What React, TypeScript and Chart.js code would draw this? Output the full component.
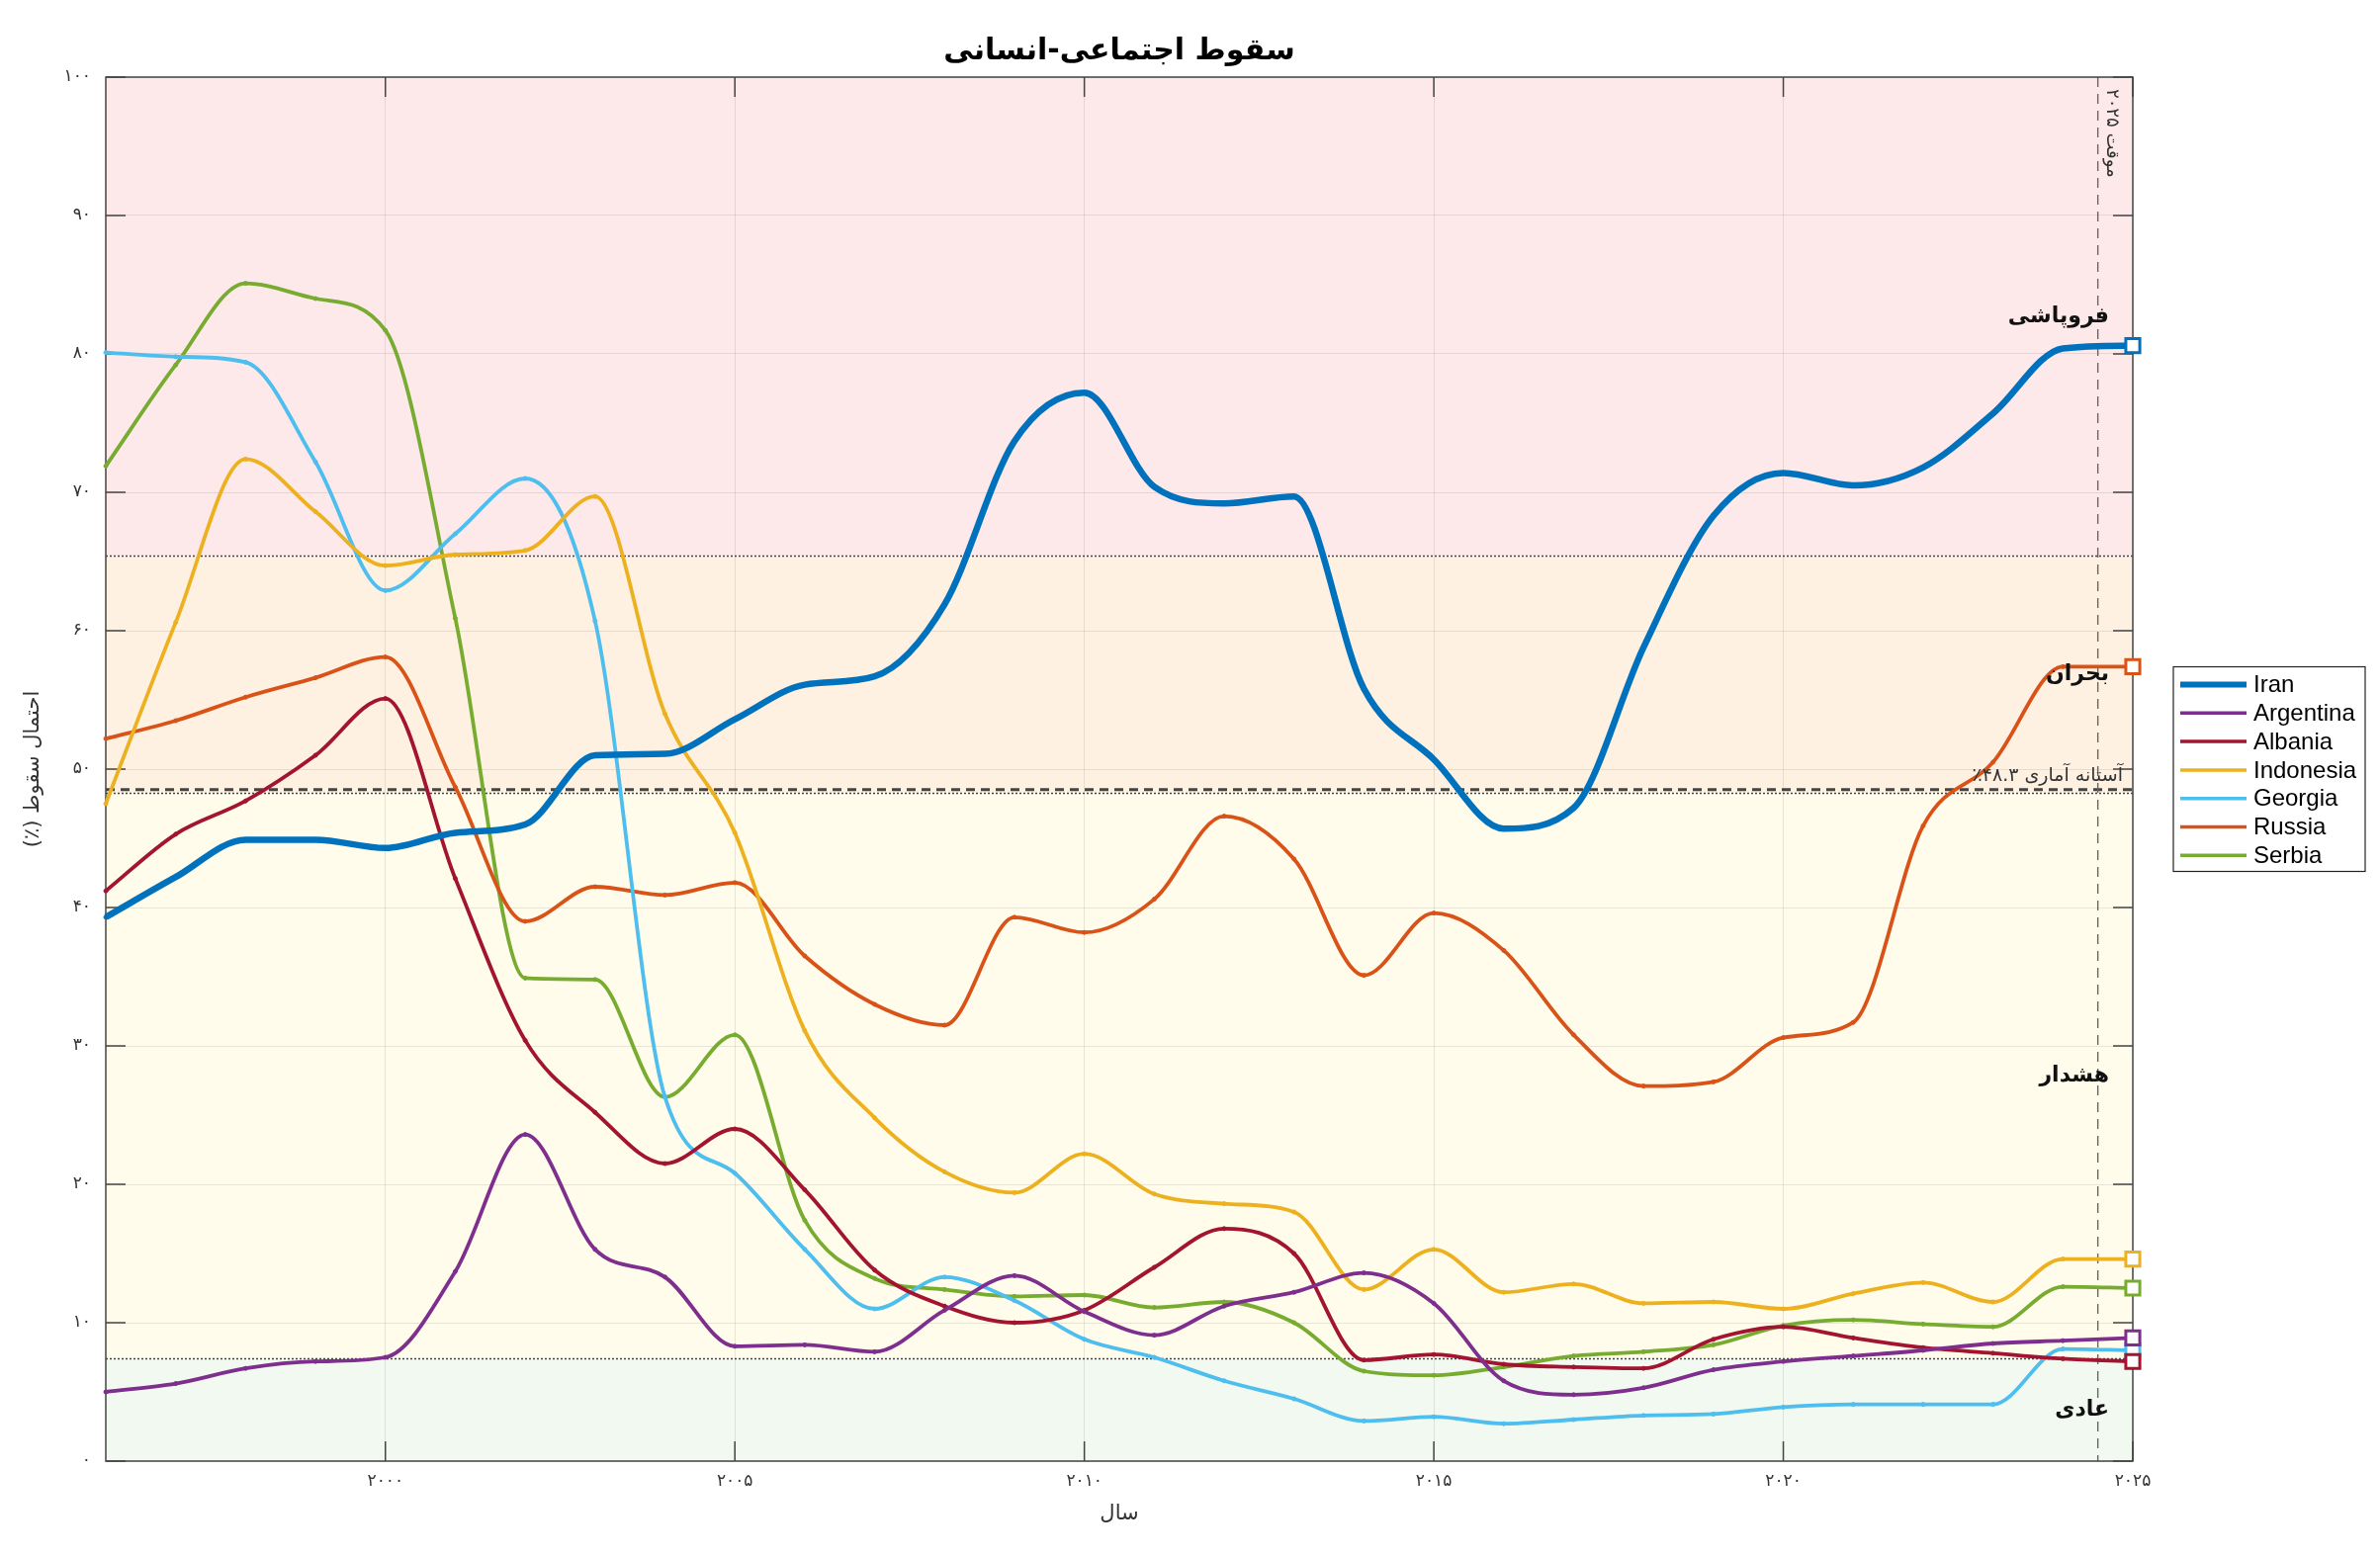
import React, { useEffect, useRef } from 'react';
import { Chart, registerables } from 'chart.js';

Chart.register(...registerables);

// yearly values (percent probability of collapse)
const years = [
  1996, 1997, 1998, 1999, 2000, 2001, 2002, 2003, 2004, 2005, 2006, 2007, 2008, 2009, 2010,
  2011, 2012, 2013, 2014, 2015, 2016, 2017, 2018, 2019, 2020, 2021, 2022, 2023, 2024, 2025,
];
const iran = [
  39.3, 42.2, 44.9, 44.9, 44.3, 45.4, 46.0, 51.0, 51.1, 53.6, 56.1, 56.7, 61.9, 73.7, 77.2,
  70.4, 69.2, 69.7, 55.8, 50.7, 45.7, 47.2, 58.8, 68.3, 71.4, 70.5, 71.8, 75.7, 80.4, 80.6,
];
const argentina = [
  5.0, 5.6, 6.7, 7.2, 7.5, 13.7, 23.6, 15.3, 13.3, 8.3, 8.4, 7.9, 10.9, 13.4, 10.8,
  9.1, 11.2, 12.2, 13.6, 11.4, 5.8, 4.8, 5.3, 6.6, 7.2, 7.6, 8.0, 8.5, 8.7, 8.9,
];
const albania = [
  41.2, 45.3, 47.7, 51.0, 55.1, 42.1, 30.4, 25.2, 21.5, 24.0, 19.6, 13.8, 11.2, 10.0, 10.9,
  14.0, 16.8, 15.0, 7.3, 7.7, 7.0, 6.8, 6.7, 8.8, 9.7, 8.9, 8.2, 7.8, 7.4, 7.2,
];
const indonesia = [
  47.5, 60.6, 72.4, 68.6, 64.7, 65.5, 65.8, 69.7, 54.0, 45.4, 31.1, 24.8, 20.9, 19.4, 22.2,
  19.3, 18.6, 18.0, 12.4, 15.3, 12.2, 12.8, 11.4, 11.5, 11.0, 12.1, 12.9, 11.5, 14.6, 14.6,
];
const georgia = [
  80.1, 79.8, 79.4, 72.2, 62.9, 67.0, 71.0, 60.7, 26.3, 20.8, 15.3, 11.0, 13.3, 11.6, 8.8,
  7.5, 5.8, 4.5, 2.9, 3.2, 2.7, 3.0, 3.3, 3.4, 3.9, 4.1, 4.1, 4.1, 8.1, 8.0,
];
const russia = [
  52.2, 53.5, 55.2, 56.6, 58.1, 48.7, 39.0, 41.5, 40.9, 41.8, 36.5, 33.0, 31.5, 39.3, 38.2,
  40.6, 46.6, 43.5, 35.1, 39.6, 36.9, 30.8, 27.1, 27.4, 30.6, 31.7, 45.9, 50.5, 57.4, 57.4,
];
const serbia = [
  71.9, 79.2, 85.1, 84.0, 81.7, 60.9, 34.9, 34.8, 26.3, 30.8, 17.4, 13.2, 12.4, 11.9, 12.0,
  11.1, 11.5, 10.0, 6.5, 6.2, 6.8, 7.6, 7.9, 8.4, 9.8, 10.2, 9.9, 9.7, 12.6, 12.5,
];

const seriesNames = ['Iran', 'Argentina', 'Albania', 'Indonesia', 'Georgia', 'Russia', 'Serbia'];
const seriesValues = [iran, argentina, albania, indonesia, georgia, russia, serbia];
const seriesColors = ['#0072BD', '#7E2F8E', '#A2142F', '#EDB120', '#4DBEEE', '#D95319', '#77AC30'];

const xTickValues = [2000, 2005, 2010, 2015, 2020, 2025];
const xTickLabels = ['۲۰۰۰', '۲۰۰۵', '۲۰۱۰', '۲۰۱۵', '۲۰۲۰', '۲۰۲۵'];
const yTickValues = [0, 10, 20, 30, 40, 50, 60, 70, 80, 90, 100];
const yTickLabels = ['۰', '۱۰', '۲۰', '۳۰', '۴۰', '۵۰', '۶۰', '۷۰', '۸۰', '۹۰', '۱۰۰'];

// risk bands, bottom to top
const bandEdges = [0, 7.4, 48.3, 65.4, 100];
const bandNames = ['عادی', 'هشدار', 'بحران', 'فروپاشی'];
const bandColors = ['#F2F9F0', '#FFFCEC', '#FEF1E1', '#FDE9EA'];
const statThreshold = 48.3;
const provisionalYear = 2024.5;

const titleText = 'سقوط اجتماعی-انسانی';
const xTitleText = 'سال';
const yTitleText = 'احتمال سقوط (٪)';
const thresholdText = 'آستانه آماری ۴۸.۳٪';
const provisionalText = 'موقت ۲۰۲۵';

const FA = '"DejaVu Sans", sans-serif';
const AXIS = '#444';

const overlay = {
  id: 'overlay',
  beforeDraw(chart: any) {
    const { ctx, chartArea: a, scales } = chart;
    const y = scales.y;
    ctx.save();
    for (let i = 0; i < bandColors.length; i++) {
      const top = y.getPixelForValue(bandEdges[i + 1]);
      const bot = y.getPixelForValue(bandEdges[i]);
      ctx.fillStyle = bandColors[i];
      ctx.fillRect(a.left, top, a.right - a.left, bot - top);
    }
    ctx.restore();
  },
  beforeDatasetsDraw(chart: any) {
    const { ctx, chartArea: a, scales } = chart;
    const x = scales.x;
    const y = scales.y;
    ctx.save();

    // band edges (dotted)
    ctx.strokeStyle = AXIS;
    ctx.lineWidth = 1.5;
    ctx.setLineDash([2, 2]);
    [bandEdges[1], bandEdges[2], bandEdges[3]].forEach((v) => {
      const py = Math.round(y.getPixelForValue(v)) + 0.5;
      ctx.beginPath();
      ctx.moveTo(a.left, py);
      ctx.lineTo(a.right, py);
      ctx.stroke();
    });

    // statistical threshold (thick dashes)
    const ty = y.getPixelForValue(statThreshold) - 3;
    ctx.lineWidth = 3;
    ctx.setLineDash([9, 6]);
    ctx.beginPath();
    ctx.moveTo(a.left, ty);
    ctx.lineTo(a.right, ty);
    ctx.stroke();

    // provisional year marker
    const px = x.getPixelForValue(provisionalYear);
    ctx.strokeStyle = '#666';
    ctx.lineWidth = 1.4;
    ctx.setLineDash([10, 7]);
    ctx.beginPath();
    ctx.moveTo(px, a.top);
    ctx.lineTo(px, a.bottom);
    ctx.stroke();

    // box and inner ticks
    ctx.setLineDash([]);
    ctx.strokeStyle = AXIS;
    ctx.lineWidth = 1.5;
    ctx.strokeRect(a.left, a.top, a.right - a.left, a.bottom - a.top);
    const tl = 20;
    ctx.beginPath();
    yTickValues.forEach((v) => {
      const py = y.getPixelForValue(v);
      ctx.moveTo(a.left, py);
      ctx.lineTo(a.left + tl, py);
      ctx.moveTo(a.right, py);
      ctx.lineTo(a.right - tl, py);
    });
    xTickValues.forEach((v) => {
      const xp = x.getPixelForValue(v);
      ctx.moveTo(xp, a.bottom);
      ctx.lineTo(xp, a.bottom - tl);
      ctx.moveTo(xp, a.top);
      ctx.lineTo(xp, a.top + tl);
    });
    ctx.stroke();
    ctx.restore();
  },
  afterDatasetsDraw(chart: any) {
    const { ctx, chartArea: a, scales } = chart;
    const x = scales.x;
    const y = scales.y;
    ctx.save();
    ctx.direction = 'rtl';

    // band names
    ctx.fillStyle = '#111';
    ctx.font = `bold 22px ${FA}`;
    ctx.textAlign = 'right';
    ctx.textBaseline = 'middle';
    bandNames.forEach((name, i) => {
      const mid = (bandEdges[i] + bandEdges[i + 1]) / 2;
      ctx.fillText(name, a.right - 24, y.getPixelForValue(mid));
    });

    // threshold label
    ctx.font = `19px ${FA}`;
    ctx.fillStyle = '#333';
    ctx.textBaseline = 'alphabetic';
    ctx.fillText(thresholdText, a.right - 10, y.getPixelForValue(statThreshold) - 12);

    // provisional label, rotated to read downwards
    ctx.save();
    ctx.translate(x.getPixelForValue(provisionalYear) + 14, a.top + 12);
    ctx.rotate(Math.PI / 2);
    ctx.font = `18px ${FA}`;
    ctx.fillStyle = '#333';
    ctx.textAlign = 'left';
    ctx.textBaseline = 'middle';
    ctx.fillText(provisionalText, 0, 0);
    ctx.restore();

    // title and axis titles
    ctx.textAlign = 'center';
    ctx.textBaseline = 'middle';
    ctx.fillStyle = '#000';
    ctx.font = `bold 30px ${FA}`;
    ctx.fillText(titleText, (a.left + a.right) / 2, 52);
    ctx.fillStyle = '#333';
    ctx.font = `21px ${FA}`;
    ctx.fillText(xTitleText, (a.left + a.right) / 2, a.bottom + 54);
    ctx.save();
    ctx.translate(34, (a.top + a.bottom) / 2);
    ctx.rotate(-Math.PI / 2);
    ctx.fillText(yTitleText, 0, 0);
    ctx.restore();

    // legend
    ctx.direction = 'ltr';
    const lw = 194;
    const lh = 207;
    const lx = a.right + 41;
    const ly = (a.top + a.bottom) / 2 - lh / 2;
    ctx.fillStyle = '#fff';
    ctx.fillRect(lx, ly, lw, lh);
    ctx.strokeStyle = '#222';
    ctx.lineWidth = 1.2;
    ctx.strokeRect(lx, ly, lw, lh);
    ctx.font = '24px "Liberation Sans", Arial, sans-serif';
    ctx.textAlign = 'left';
    seriesNames.forEach((name, i) => {
      const iy = ly + 18 + i * 28.8;
      ctx.strokeStyle = seriesColors[i];
      ctx.lineWidth = i === 0 ? 6 : 3.5;
      ctx.beginPath();
      ctx.moveTo(lx + 7, iy);
      ctx.lineTo(lx + 74, iy);
      ctx.stroke();
      ctx.fillStyle = '#000';
      ctx.fillText(name, lx + 81, iy + 1);
    });
    ctx.restore();
  },
};

const App = () => {
  const canvasRef = useRef<HTMLCanvasElement | null>(null);

  useEffect(() => {
    if (!canvasRef.current) return;
    const last = years.length - 1;
    const tickFont = { family: FA, size: 17 };

    const chart = new Chart(canvasRef.current, {
      type: 'line',
      data: {
        datasets: seriesNames.map((name, i) => ({
          label: name,
          data: years.map((yr, j) => ({ x: yr, y: seriesValues[i][j] })),
          borderColor: seriesColors[i],
          backgroundColor: seriesColors[i],
          borderWidth: i === 0 ? 6.5 : 3.8,
          cubicInterpolationMode: 'monotone' as const,
          pointStyle: years.map((_, j) => (j === last ? 'rect' : 'circle')),
          pointRadius: years.map((_, j) => (j === last ? 10 : 2)),
          pointBackgroundColor: years.map((_, j) => (j === last ? '#fff' : seriesColors[i])),
          pointBorderColor: seriesColors[i],
          pointBorderWidth: years.map((_, j) => (j === last ? 3 : 1)),
          clip: false as any,
        })),
      },
      options: {
        responsive: true,
        maintainAspectRatio: false,
        animation: false,
        layout: { padding: { top: 78, right: 250, bottom: 0, left: 0 } },
        plugins: {
          legend: { display: false },
          title: { display: false },
          tooltip: { enabled: false },
        },
        scales: {
          x: {
            type: 'linear',
            min: 1996,
            max: 2025,
            afterBuildTicks: (s: any) => {
              s.ticks = xTickValues.map((v) => ({ value: v }));
            },
            afterFit: (s: any) => {
              s.height = 97;
            },
            ticks: {
              autoSkip: false,
              maxRotation: 0,
              padding: 10,
              color: '#333',
              font: tickFont,
              callback: (v: any) => xTickLabels[xTickValues.indexOf(Number(v))] ?? '',
            },
            grid: { color: 'rgba(0,0,0,0.09)', lineWidth: 1, drawTicks: false },
            border: { display: false },
          },
          y: {
            type: 'linear',
            min: 0,
            max: 100,
            afterBuildTicks: (s: any) => {
              s.ticks = yTickValues.map((v) => ({ value: v }));
            },
            afterFit: (s: any) => {
              s.width = 107;
            },
            ticks: {
              padding: 15,
              color: '#333',
              font: tickFont,
              callback: (v: any) => yTickLabels[yTickValues.indexOf(Number(v))] ?? '',
            },
            grid: { color: 'rgba(0,0,0,0.09)', lineWidth: 1, drawTicks: false },
            border: { display: false },
          },
        },
      },
      plugins: [overlay],
    });

    return () => {
      chart.destroy();
    };
  }, []);

  return (
    <div style={{ position: 'fixed', left: 0, top: 0, width: 2407, height: 1575, background: '#fff' }}>
      <canvas ref={canvasRef} />
    </div>
  );
};

export default App;
